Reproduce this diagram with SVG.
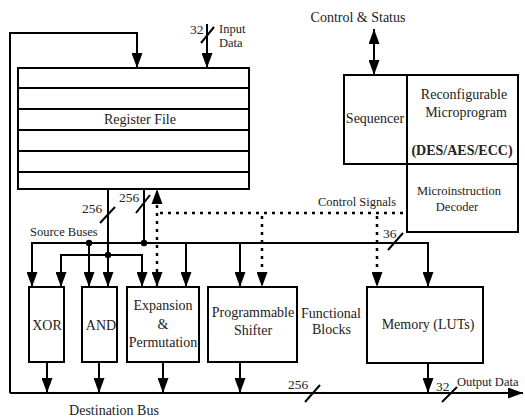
<svg xmlns="http://www.w3.org/2000/svg" width="525" height="418" viewBox="0 0 525 418" font-family="'Liberation Serif', 'DejaVu Serif', serif">
<style>
.box{fill:#fff;stroke:#000;stroke-width:2}
.ln{fill:none;stroke:#000;stroke-width:2}
.dot{fill:none;stroke:#000;stroke-width:2.5;stroke-dasharray:3 5}
text{font-family:'Liberation Serif','DejaVu Serif',serif;font-size:14px;fill:#222}
.c{text-anchor:middle}
.s{font-size:12.5px}
.n{font-size:13.5px}
.b{font-weight:bold}
</style>
<defs>
<marker id="ah" viewBox="0 0 15 11" refX="15" refY="5.5" markerWidth="15" markerHeight="11" markerUnits="userSpaceOnUse" orient="auto-start-reverse">
<path d="M0,0 L15,5.5 L0,11 z" fill="#000" stroke="none"/>
</marker>
</defs>
<rect width="525" height="418" fill="#fff"/>

<g id="register-file">
<rect class="box" x="18" y="68" width="231" height="121"/>
<path class="ln" d="M18,88H249M18,109H249M18,130H249M18,151H249M18,172H249"/>
<text class="c" x="140" y="124">Register File</text>
</g>

<g id="sequencer">
<rect class="box" x="344" y="75" width="63" height="89"/>
<text class="c" x="375" y="123">Sequencer</text>
</g>
<g id="microprogram">
<rect class="box" x="407" y="75" width="111" height="89"/>
<text class="c" x="464" y="99">Reconfigurable</text>
<text class="c" x="466" y="117">Microprogram</text>
<text class="c b" x="462" y="155" font-size="14.5">(DES/AES/ECC)</text>
</g>
<g id="decoder">
<rect class="box" x="407" y="164" width="111" height="68"/>
<text class="c s" x="459" y="195">Microinstruction</text>
<text class="c s" x="457" y="211">Decoder</text>
</g>

<g id="xor">
<rect class="box" x="29" y="287" width="35" height="75"/>
<text class="c" x="47" y="330">XOR</text>
</g>
<g id="and">
<rect class="box" x="82" y="287" width="35" height="75"/>
<text class="c" x="101" y="330">AND</text>
</g>
<g id="expansion">
<rect class="box" x="127" y="287" width="72" height="75"/>
<text class="c" x="163" y="310">Expansion</text>
<text class="c" x="163" y="329">&amp;</text>
<text class="c" x="163" y="347">Permutation</text>
</g>
<g id="shifter">
<rect class="box" x="208" y="287" width="89" height="75"/>
<text class="c" x="253" y="317">Programmable</text>
<text class="c" x="253" y="335">Shifter</text>
</g>
<g id="memory">
<rect class="box" x="367" y="287" width="116" height="76"/>
<text class="c" x="428" y="329">Memory (LUTs)</text>
</g>

<g id="connectors">
<path class="ln" d="M10,393V33H137V68" marker-end="url(#ah)"/>
<path class="ln" d="M207,24V68" marker-end="url(#ah)"/>
<path class="ln" d="M201,43L214,27"/>
<path class="ln" d="M374,29V75" marker-start="url(#ah)" marker-end="url(#ah)"/>
<path class="ln" d="M108,189V287" marker-end="url(#ah)"/>
<path class="ln" d="M100,223L115,207"/>
<path class="ln" d="M144,189V243"/>
<path class="ln" d="M136,213L150,195"/>
<path class="ln" d="M32,287V243H428V287" marker-start="url(#ah)" marker-end="url(#ah)"/>
<path class="ln" d="M388,250L403,233"/>
<path class="ln" d="M61,287V255H142V287" marker-start="url(#ah)" marker-end="url(#ah)"/>
<path class="ln" d="M89,243V287" marker-end="url(#ah)"/>
<path class="ln" d="M186,243V287" marker-end="url(#ah)"/>
<path class="ln" d="M240,243V287" marker-end="url(#ah)"/>
<circle cx="144" cy="243" r="3.2"/>
<circle cx="89" cy="243" r="3.2"/>
<circle cx="108" cy="255" r="3.2"/>
<path d="M157,189L151.5,204L162.5,204z" fill="#000"/>
<path class="dot" d="M157,205V287" marker-end="url(#ah)"/>
<path class="dot" d="M160,213H407"/>
<path class="dot" d="M262,216V287" marker-end="url(#ah)"/>
<path class="dot" d="M377,216V287" marker-end="url(#ah)"/>
<path class="ln" d="M47,362V393" marker-end="url(#ah)"/>
<path class="ln" d="M99,362V393" marker-end="url(#ah)"/>
<path class="ln" d="M163,362V393" marker-end="url(#ah)"/>
<path class="ln" d="M240,362V393" marker-end="url(#ah)"/>
<path class="ln" d="M428,363V393" marker-end="url(#ah)"/>
<path class="ln" d="M10,393H523" marker-end="url(#ah)"/>
<path class="ln" d="M305,402L320,385"/>
<path class="ln" d="M442,402L457,387"/>
</g>

<g id="labels">
<text x="190" y="34" class="n">32</text>
<text x="219" y="33" class="s">Input</text>
<text x="219" y="47" class="s">Data</text>
<text class="c" x="358" y="22">Control &amp; Status</text>
<text class="c s" x="357" y="206">Control Signals</text>
<text x="30" y="236" class="s">Source Buses</text>
<text x="82" y="213" class="n">256</text>
<text x="119" y="202" class="n">256</text>
<text x="383" y="238" class="n">36</text>
<text x="301" y="318">Functional</text>
<text x="312" y="334">Blocks</text>
<text x="288" y="389" class="n">256</text>
<text x="436" y="391" class="n">32</text>
<text x="457" y="386" class="s">Output Data</text>
<text class="c" x="114" y="415">Destination Bus</text>
</g>
</svg>
